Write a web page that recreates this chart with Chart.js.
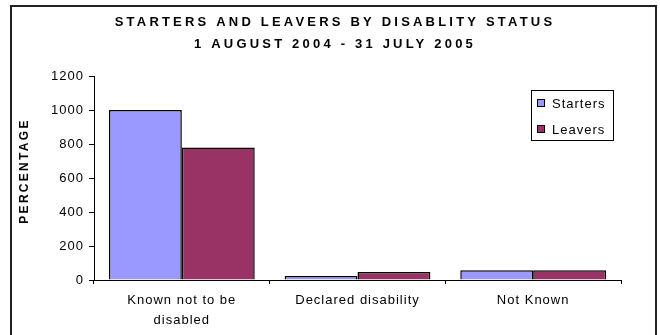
<!DOCTYPE html>
<html>
<head>
<meta charset="utf-8">
<script src="https://cdn.jsdelivr.net/npm/chart.js@4"></script>
<style>
  html, body { margin: 0; padding: 0; background: #fff; }
  #wrap { width: 660px; height: 335px; position: relative; }
</style>
</head>
<body>
<div id="wrap"><canvas id="disabilityChart"></canvas></div>
<script>
const categories = [['Known not to be', 'disabled'], 'Declared disability', 'Not Known'];
const starters = [1000, 24, 58];
const leavers = [780, 47, 58];
const yTicks = [0, 200, 400, 600, 800, 1000, 1200];
const titleLines = ['STARTERS AND LEAVERS BY DISABLITY STATUS', '1 AUGUST 2004 - 31 JULY 2005'];
const yTitle = 'PERCENTAGE';

const FONT = "'Liberation Sans', Arial, sans-serif";

// frame, titles and legend drawn straight on the canvas
const decorations = {
    id: 'decorations',
    beforeDraw(chart) {
        const ctx = chart.ctx;
        ctx.save();
        ctx.fillStyle = '#fff';
        ctx.fillRect(0, 0, chart.width, chart.height);
        ctx.restore();
        // Excel-like loose spacing for the axis text
        ctx.letterSpacing = '1px';
    },
    afterDraw(chart) {
        const ctx = chart.ctx;
        ctx.save();

        // outer frame
        ctx.strokeStyle = '#222';
        ctx.lineWidth = 2;
        ctx.strokeRect(11, 6, 645, 345);

        // title
        ctx.fillStyle = '#000';
        ctx.font = 'bold 13px ' + FONT;
        ctx.textAlign = 'center';
        ctx.textBaseline = 'middle';
        ctx.letterSpacing = '3.2px';
        ctx.fillText(titleLines[0], 335, 22);
        ctx.fillText(titleLines[1], 335, 44);

        // y axis title
        ctx.save();
        ctx.translate(25, 171);
        ctx.rotate(-Math.PI / 2);
        ctx.font = 'bold 12px ' + FONT;
        ctx.letterSpacing = '2.3px';
        ctx.fillText(yTitle, 0, 0);
        ctx.restore();

        // legend
        ctx.letterSpacing = '1px';
        ctx.strokeStyle = '#000';
        ctx.lineWidth = 1;
        ctx.strokeRect(531.5, 90.5, 82, 50);
        ctx.font = '13px ' + FONT;
        ctx.textAlign = 'left';
        chart.data.datasets.forEach((ds, i) => {
            const cy = 103 + i * 26;
            ctx.fillStyle = ds.backgroundColor;
            ctx.fillRect(538, cy - 3, 6, 6);
            ctx.strokeRect(537.5, cy - 3.5, 7, 7);
            ctx.fillStyle = '#000';
            ctx.fillText(ds.label, 552, cy + 1);
        });
        ctx.restore();
    }
};

const ctx = document.getElementById('disabilityChart');
new Chart(ctx, {
    type: 'bar',
    data: {
        labels: categories,
        datasets: [
            {
                label: 'Starters',
                data: starters,
                backgroundColor: '#9999FF',
                borderColor: '#000',
                borderWidth: 1.5
            },
            {
                label: 'Leavers',
                data: leavers,
                backgroundColor: '#993366',
                borderColor: '#000',
                borderWidth: 1.5
            }
        ]
    },
    options: {
        responsive: true,
        maintainAspectRatio: false,
        animation: false,
        devicePixelRatio: 1,
        categoryPercentage: 0.83,
        barPercentage: 1,
        layout: {
            padding: { top: 76, right: 39, left: 0, bottom: 0 }
        },
        plugins: {
            legend: { display: false },
            title: { display: false },
            tooltip: { enabled: false }
        },
        scales: {
            x: {
                afterFit: (scale) => { scale.height = 55; },
                grid: {
                    offset: true,
                    drawOnChartArea: false,
                    color: '#000',
                    tickLength: 4
                },
                border: { display: true, color: '#000', width: 1 },
                ticks: {
                    color: '#000',
                    padding: 7,
                    font: { family: FONT, size: 13, lineHeight: 1.5 }
                }
            },
            y: {
                min: 0,
                max: yTicks[yTicks.length - 1],
                afterFit: (scale) => { scale.width = 94; },
                afterBuildTicks: (scale) => {
                    scale.ticks = yTicks.map(v => ({ value: v }));
                },
                grid: {
                    drawOnChartArea: false,
                    color: '#000',
                    tickLength: 5
                },
                border: { display: true, color: '#000', width: 1 },
                ticks: {
                    color: '#000',
                    padding: 5,
                    font: { family: FONT, size: 13 },
                    callback: (v) => String(v)
                }
            }
        }
    },
    plugins: [decorations]
});
</script>
</body>
</html>
